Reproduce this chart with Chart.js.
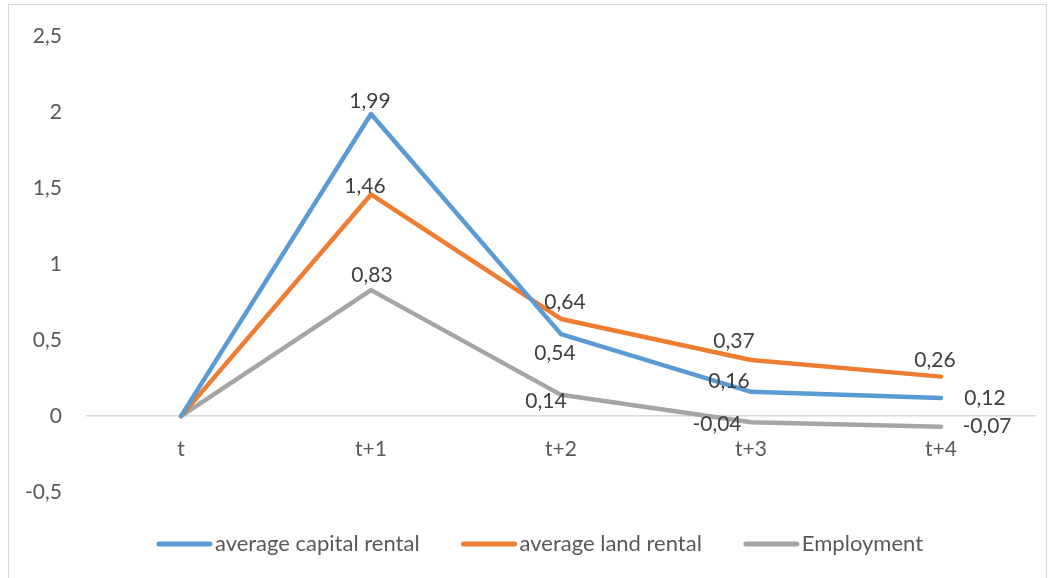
<!DOCTYPE html>
<html>
<head>
<meta charset="utf-8">
<script src="https://cdn.jsdelivr.net/npm/chart.js@4"></script>
<style>
  html, body { margin: 0; padding: 0; background: #fff; }
  #wrap { position: relative; width: 1052px; height: 578px; overflow: hidden; }
  #frame { position: absolute; left: 8px; top: 4px; width: 1039px; height: 620px; border: 1px solid #d9d9d9; box-sizing: border-box; }
  canvas { position: absolute; left: 0; top: 0; }
</style>
</head>
<body>
<div id="wrap">
  <div id="frame"></div>
  <canvas id="chart" width="1052" height="578"></canvas>
</div>
<script>
// Periods and responses of the three series
const periods = ["t", "t+1", "t+2", "t+3", "t+4"];
const capitalRental = [0, 1.99, 0.54, 0.16, 0.12];
const landRental = [0, 1.46, 0.64, 0.37, 0.26];
const employment = [0, 0.83, 0.14, -0.04, -0.07];

// y axis range / step
const yMin = -0.5;
const yMax = 2.5;
const yStep = 0.5;

// where each value label sits relative to its point (null = no label)
const capitalLabelPos = [null, [-1, -13], [-6, 19], [-22, -11], [44, 0]];
const landLabelPos = [null, [-6, -8], [4, -17], [-17, -19], [-6, -16]];
const employmentLabelPos = [null, [1, -15], [-15, 6], [-34, 2], [46, 0]];

const FONT = "Lato, 'Open Sans', sans-serif";
const FONT_SIZE = 21;
const LEGEND_SIZE = 22;
const TEXT = "#595959";

const comma = v => String(v).replace(".", ",");

// value labels next to the points
const pointLabels = {
  id: "pointLabels",
  afterDatasetsDraw(chart) {
    const ctx = chart.ctx;
    ctx.save();
    ctx.font = FONT_SIZE + "px " + FONT;
    ctx.fillStyle = "#404040";
    ctx.textAlign = "center";
    ctx.textBaseline = "middle";
    chart.data.datasets.forEach((ds, di) => {
      const meta = chart.getDatasetMeta(di);
      meta.data.forEach((pt, i) => {
        const off = ds.labelPos[i];
        if (!off) return;
        ctx.fillText(ds.data[i].toFixed(2).replace(".", ","), pt.x + off[0], pt.y + off[1]);
      });
    });
    ctx.restore();
  }
};

// legend row at the bottom, line swatch + text
const lineLegend = {
  id: "lineLegend",
  afterDraw(chart) {
    const ctx = chart.ctx;
    const sw = 55, gap = 3, spacing = 42, cy = 544;
    ctx.save();
    ctx.font = LEGEND_SIZE + "px " + FONT;
    const items = chart.data.datasets.map(ds => ({
      ds, w: sw + gap + ctx.measureText(ds.label).width
    }));
    const total = items.reduce((s, it) => s + it.w, 0) + spacing * (items.length - 1);
    let x = 540 - total / 2;
    items.forEach(it => {
      ctx.strokeStyle = it.ds.borderColor;
      ctx.lineWidth = 5;
      ctx.lineCap = "round";
      ctx.beginPath();
      ctx.moveTo(x + 2, cy);
      ctx.lineTo(x + sw - 2, cy);
      ctx.stroke();
      ctx.fillStyle = TEXT;
      ctx.textAlign = "left";
      ctx.textBaseline = "middle";
      ctx.fillText(it.ds.label, x + sw + gap, cy);
      x += it.w + spacing;
    });
    ctx.restore();
  }
};

const seriesStyle = {
  borderWidth: 4.5,
  pointRadius: 0,
  pointHoverRadius: 0,
  tension: 0,
  borderCapStyle: "round",
  borderJoinStyle: "round",
  fill: false
};

new Chart(document.getElementById("chart"), {
  type: "line",
  data: {
    labels: periods,
    datasets: [
      { label: "average capital rental", data: capitalRental, borderColor: "#5b9bd5", labelPos: capitalLabelPos, ...seriesStyle },
      { label: "average land rental", data: landRental, borderColor: "#ed7d31", labelPos: landLabelPos, ...seriesStyle },
      { label: "Employment", data: employment, borderColor: "#a5a5a5", labelPos: employmentLabelPos, ...seriesStyle }
    ]
  },
  options: {
    responsive: false,
    animation: false,
    devicePixelRatio: 1,
    layout: { padding: { top: 33, right: 16, bottom: 86, left: 0 } },
    plugins: {
      legend: { display: false },
      tooltip: { enabled: false }
    },
    scales: {
      x: {
        position: { y: 0 },
        offset: true,
        grid: { display: false },
        border: { display: false },
        ticks: { color: TEXT, font: { family: FONT, size: FONT_SIZE }, padding: 13, maxRotation: 0 },
        afterFit: s => { s.height = 0; }
      },
      y: {
        min: yMin,
        max: yMax,
        grid: {
          drawTicks: false,
          color: c => c.tick.value === 0 ? "#d9d9d9" : "rgba(0,0,0,0)",
          lineWidth: 1.5
        },
        border: { display: false },
        ticks: {
          stepSize: yStep,
          color: TEXT,
          font: { family: FONT, size: FONT_SIZE },
          padding: 24,
          callback: v => comma(v)
        },
        afterFit: s => { s.width = 86; }
      }
    }
  },
  plugins: [pointLabels, lineLegend]
});
</script>
</body>
</html>
